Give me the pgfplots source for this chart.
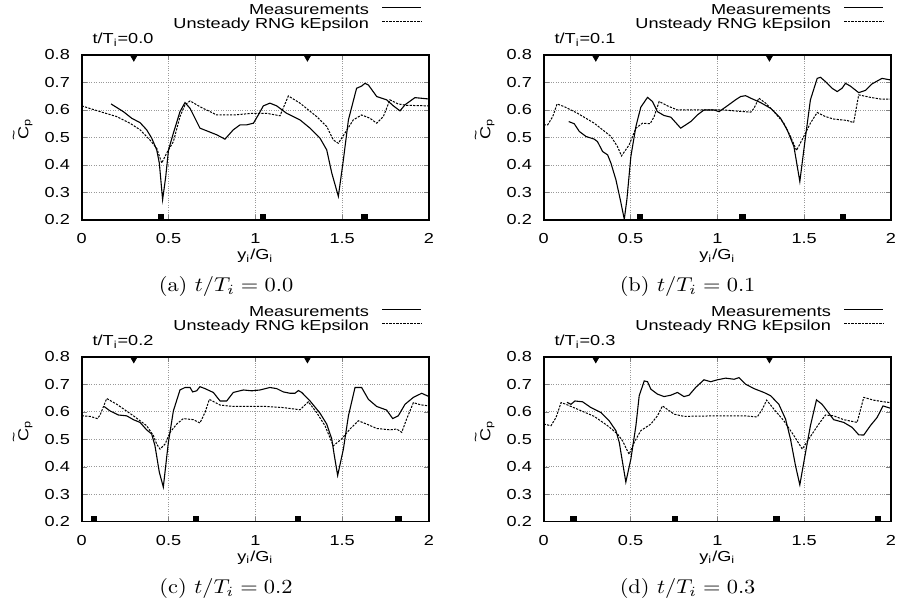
\documentclass[border=0pt]{standalone}
\usepackage{fontspec}
\usepackage{graphicx}
\usepackage{pgfplots}
\pgfplotsset{compat=1.18}
\newfontfamily\chartsans[FakeStretch=1.25]{Liberation Sans}
\newcommand\chartfont{\chartsans\fontsize{7.25}{8.7}\selectfont}
\newcommand\capt[1]{\scalebox{1.12}[1]{#1}}
\pgfplotsset{
  panel/.style={
    scale only axis, width=173.65pt, height=82.5pt, anchor=south west,
    clip mode=individual,
    xmin=0, xmax=2, ymin=0.2, ymax=0.8,
    xtick={0,0.5,1,1.5,2}, ytick={0.2,0.3,0.4,0.5,0.6,0.7,0.8},
    xticklabels={0,0.5,1,1.5,2},
    yticklabels={0.2,0.3,0.4,0.5,0.6,0.7,0.8},
    xticklabel style={font=\chartfont, yshift=-3.4pt},
    yticklabel style={font=\chartfont, xshift=-2.4pt},
    tick align=inside, major tick length=2.5pt,
    grid=major, major grid style={gray!80, line width=0.4pt, dash pattern=on 0.4pt off 0.8pt},
    axis line style={line width=0.8pt},
    xlabel={y\textsubscript{i}/G\textsubscript{i}},
    ylabel={\makebox[0pt][l]{\raisebox{0.68em}{\kern-0.05em\scriptsize\textasciitilde}}C\textsubscript{p}},
    every axis x label/.style={at={(axis description cs:0.5,-0.218)}, anchor=center, font=\chartfont},
    every axis y label/.style={at={(axis description cs:-0.17,0.55)}, anchor=center, rotate=90, font=\chartfont},
    legend plot pos=right,
    legend cell align=right,
    legend style={draw=none, fill=none, at={(axis description cs:0.981,1.31)}, anchor=north east,
      inner sep=0pt, column sep=6.5pt, row sep=0pt, font=\chartfont,
      nodes={inner sep=0pt, text height=5.35pt, text depth=1.45pt}},
  },
  meas/.style={black, line width=0.55pt},
  rng/.style={black, line width=0.5pt, dash pattern=on 1.1pt off 0.65pt},
  legend image code/.code={\draw[#1] (0pt,1.6pt) -- (19.5pt,1.6pt);},
  tri/.style={only marks, mark=triangle*, mark size=2pt, mark options={rotate=180, fill=black, solid}, forget plot},
  sq/.style={only marks, mark=square*, mark size=1.4pt, mark options={fill=black, solid}, forget plot},
}
\begin{document}
\begin{tikzpicture}
\useasboundingbox (0pt,0pt) rectangle (451pt,-302pt);

% ---------- (a) ----------
\begin{axis}[panel, at={(40.85pt,-110pt)}]
\addplot[meas] coordinates {(0.169,0.622)(0.24,0.594)(0.288,0.570)(0.336,0.554)(0.374,0.528)(0.403,0.498)(0.432,0.455)(0.447,0.407)(0.466,0.274)(0.484,0.358)(0.5,0.455)(0.528,0.516)(0.566,0.594)(0.595,0.627)(0.624,0.606)(0.681,0.534)(0.777,0.51)(0.825,0.494)(0.873,0.528)(0.912,0.546)(0.95,0.546)(0.989,0.552)(1.017,0.582)(1.046,0.615)(1.084,0.625)(1.123,0.615)(1.18,0.588)(1.257,0.564)(1.315,0.534)(1.372,0.498)(1.411,0.455)(1.44,0.371)(1.478,0.286)(1.507,0.419)(1.536,0.564)(1.583,0.679)(1.612,0.687)(1.631,0.697)(1.651,0.691)(1.699,0.649)(1.756,0.637)(1.795,0.615)(1.833,0.597)(1.862,0.619)(1.919,0.645)(2.0,0.640)};
\addlegendentry{Measurements}
\addplot[rng] coordinates {(0,0.615)(0.106,0.594)(0.202,0.576)(0.278,0.552)(0.336,0.528)(0.393,0.491)(0.432,0.461)(0.461,0.407)(0.489,0.443)(0.528,0.485)(0.566,0.576)(0.595,0.619)(0.624,0.633)(0.681,0.612)(0.777,0.582)(0.873,0.582)(0.989,0.588)(1.065,0.588)(1.142,0.579)(1.19,0.651)(1.257,0.625)(1.353,0.576)(1.411,0.54)(1.449,0.491)(1.478,0.479)(1.516,0.516)(1.564,0.564)(1.612,0.582)(1.660,0.570)(1.699,0.552)(1.737,0.576)(1.775,0.637)(1.823,0.622)(1.871,0.617)(2.0,0.615)};
\addlegendentry{Unsteady RNG kEpsilon}
\addplot[tri] coordinates {(0.3,0.7927)(1.3,0.7927)};
\addplot[sq] coordinates {(0.457,0.2102)(1.044,0.2102)(1.627,0.2102)};
\node[font=\chartfont, anchor=base] at (axis description cs:0.119,1.0667) {t/T\textsubscript{i}=0.0};
\end{axis}

% ---------- (b) ----------
\begin{axis}[panel, at={(271.85pt,-110pt)}]
\addplot[meas] coordinates {(0.144,0.558)(0.176,0.55)(0.205,0.522)(0.243,0.504)(0.291,0.494)(0.31,0.485)(0.339,0.449)(0.368,0.437)(0.387,0.407)(0.416,0.346)(0.441,0.274)(0.464,0.203)(0.479,0.274)(0.502,0.431)(0.531,0.540)(0.559,0.610)(0.598,0.646)(0.626,0.631)(0.655,0.594)(0.693,0.580)(0.732,0.574)(0.789,0.534)(0.847,0.558)(0.885,0.582)(0.923,0.600)(0.981,0.600)(1.01,0.594)(1.057,0.615)(1.105,0.637)(1.134,0.649)(1.163,0.652)(1.192,0.643)(1.249,0.627)(1.307,0.606)(1.364,0.570)(1.402,0.528)(1.441,0.467)(1.475,0.340)(1.508,0.504)(1.536,0.637)(1.575,0.715)(1.594,0.719)(1.623,0.703)(1.661,0.679)(1.69,0.667)(1.718,0.679)(1.738,0.697)(1.766,0.687)(1.814,0.663)(1.852,0.671)(1.891,0.695)(1.948,0.715)(2.0,0.709)};
\addlegendentry{Measurements}
\addplot[rng] coordinates {(0,0.546)(0.023,0.546)(0.052,0.576)(0.077,0.622)(0.119,0.612)(0.195,0.588)(0.291,0.552)(0.387,0.504)(0.425,0.467)(0.448,0.433)(0.492,0.473)(0.531,0.534)(0.569,0.552)(0.613,0.550)(0.636,0.576)(0.665,0.631)(0.713,0.615)(0.770,0.600)(0.904,0.600)(1.038,0.600)(1.153,0.594)(1.192,0.592)(1.211,0.606)(1.239,0.643)(1.278,0.625)(1.326,0.594)(1.383,0.552)(1.421,0.504)(1.456,0.453)(1.498,0.504)(1.536,0.552)(1.575,0.591)(1.623,0.576)(1.670,0.567)(1.747,0.562)(1.785,0.554)(1.814,0.655)(1.881,0.646)(1.939,0.640)(2.0,0.639)};
\addlegendentry{Unsteady RNG kEpsilon}
\addplot[tri] coordinates {(0.3,0.7927)(1.3,0.7927)};
\addplot[sq] coordinates {(0.555,0.2102)(1.144,0.2102)(1.724,0.2102)};
\node[font=\chartfont, anchor=base] at (axis description cs:0.119,1.0667) {t/T\textsubscript{i}=0.1};
\end{axis}

% ---------- (c) ----------
\begin{axis}[panel, at={(40.85pt,-260.85pt)}]
\addplot[meas] coordinates {(0.129,0.619)(0.163,0.603)(0.211,0.588)(0.259,0.585)(0.298,0.571)(0.336,0.561)(0.374,0.534)(0.403,0.519)(0.422,0.476)(0.447,0.380)(0.470,0.326)(0.499,0.488)(0.528,0.603)(0.566,0.679)(0.595,0.688)(0.624,0.688)(0.639,0.672)(0.662,0.676)(0.681,0.691)(0.710,0.684)(0.758,0.670)(0.797,0.639)(0.835,0.639)(0.873,0.670)(0.931,0.679)(0.979,0.676)(1.027,0.679)(1.084,0.688)(1.123,0.684)(1.161,0.672)(1.200,0.667)(1.228,0.667)(1.248,0.677)(1.267,0.670)(1.315,0.639)(1.372,0.595)(1.411,0.555)(1.440,0.501)(1.455,0.440)(1.474,0.368)(1.507,0.464)(1.536,0.585)(1.574,0.688)(1.612,0.688)(1.651,0.645)(1.699,0.619)(1.756,0.606)(1.791,0.575)(1.823,0.585)(1.862,0.627)(1.910,0.652)(1.958,0.667)(2.0,0.655)};
\addlegendentry{Measurements}
\addplot[rng] coordinates {(0,0.585)(0.048,0.583)(0.090,0.575)(0.106,0.588)(0.144,0.648)(0.202,0.627)(0.298,0.585)(0.374,0.549)(0.413,0.513)(0.432,0.482)(0.451,0.464)(0.480,0.482)(0.509,0.525)(0.547,0.555)(0.585,0.575)(0.643,0.571)(0.681,0.559)(0.710,0.597)(0.735,0.645)(0.797,0.624)(0.873,0.619)(1.065,0.619)(1.161,0.615)(1.257,0.607)(1.305,0.636)(1.353,0.597)(1.401,0.549)(1.449,0.476)(1.497,0.501)(1.545,0.537)(1.593,0.567)(1.641,0.555)(1.699,0.539)(1.776,0.534)(1.814,0.537)(1.843,0.525)(1.871,0.573)(1.910,0.633)(1.952,0.625)(2.0,0.621)};
\addlegendentry{Unsteady RNG kEpsilon}
\addplot[tri] coordinates {(0.3,0.7927)(1.3,0.7927)};
\addplot[sq] coordinates {(0.071,0.2102)(0.658,0.2102)(1.244,0.2102)(1.825,0.2102)};
\node[font=\chartfont, anchor=base] at (axis description cs:0.119,1.0667) {t/T\textsubscript{i}=0.2};
\end{axis}

% ---------- (d) ----------
\begin{axis}[panel, at={(271.85pt,-260.85pt)}]
\addplot[meas] coordinates {(0.134,0.634)(0.157,0.627)(0.180,0.639)(0.224,0.636)(0.272,0.615)(0.330,0.597)(0.377,0.567)(0.416,0.531)(0.435,0.489)(0.454,0.416)(0.473,0.344)(0.502,0.428)(0.531,0.549)(0.550,0.658)(0.579,0.712)(0.598,0.709)(0.617,0.682)(0.655,0.664)(0.693,0.655)(0.732,0.660)(0.770,0.670)(0.808,0.655)(0.837,0.660)(0.875,0.688)(0.923,0.716)(0.962,0.709)(1.000,0.716)(1.048,0.722)(1.096,0.718)(1.125,0.724)(1.163,0.700)(1.211,0.684)(1.268,0.670)(1.307,0.658)(1.354,0.627)(1.393,0.573)(1.421,0.501)(1.450,0.404)(1.475,0.334)(1.508,0.452)(1.536,0.549)(1.571,0.643)(1.603,0.627)(1.632,0.603)(1.670,0.571)(1.728,0.561)(1.776,0.543)(1.814,0.516)(1.843,0.515)(1.881,0.549)(1.920,0.579)(1.954,0.621)(2.0,0.612)};
\addlegendentry{Measurements}
\addplot[rng] coordinates {(0,0.555)(0.042,0.549)(0.071,0.579)(0.100,0.633)(0.128,0.627)(0.195,0.609)(0.291,0.583)(0.368,0.549)(0.425,0.519)(0.454,0.494)(0.492,0.445)(0.521,0.488)(0.559,0.531)(0.617,0.555)(0.655,0.585)(0.684,0.621)(0.751,0.591)(0.808,0.583)(1.000,0.585)(1.153,0.585)(1.230,0.581)(1.259,0.609)(1.284,0.642)(1.326,0.609)(1.383,0.567)(1.441,0.513)(1.489,0.464)(1.527,0.501)(1.584,0.555)(1.623,0.588)(1.670,0.585)(1.728,0.571)(1.805,0.561)(1.843,0.652)(1.900,0.642)(1.958,0.636)(2.0,0.633)};
\addlegendentry{Unsteady RNG kEpsilon}
\addplot[tri] coordinates {(0.3,0.7927)(1.3,0.7927)};
\addplot[sq] coordinates {(0.172,0.2102)(0.755,0.2102)(1.341,0.2102)(1.925,0.2102)};
\node[font=\chartfont, anchor=base] at (axis description cs:0.119,1.0667) {t/T\textsubscript{i}=0.3};
\end{axis}

% captions
\node at (113pt,-143.3pt) {\capt{(a) $t/T_i = 0.0$}};
\node at (343.8pt,-143.3pt) {\capt{(b) $t/T_i = 0.1$}};
\node at (113pt,-294.3pt) {\capt{(c) $t/T_i = 0.2$}};
\node at (343.8pt,-294.3pt) {\capt{(d) $t/T_i = 0.3$}};
\end{tikzpicture}
\end{document}
